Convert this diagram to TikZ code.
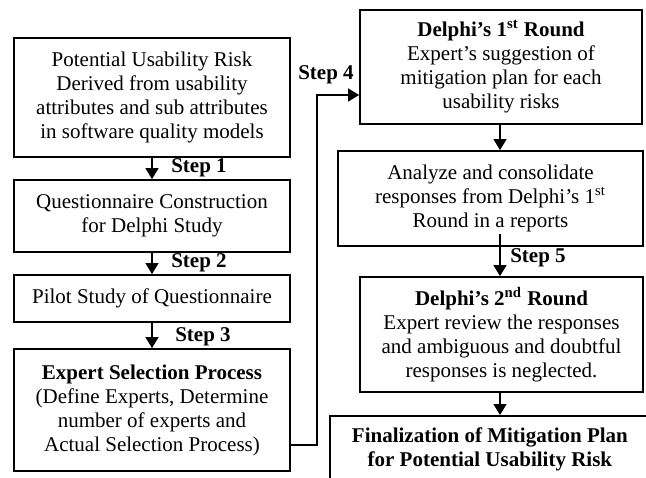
\documentclass[tikz,border=0pt]{standalone}
\usepackage{fontspec}
\setmainfont{Liberation Serif}
\usepackage{tikz}
\usetikzlibrary{arrows.meta,calc}

\tikzset{
  stage/.style={draw,line width=0.9pt,align=center,inner sep=0pt,font=\fontsize{10.5}{12}\selectfont},
  steplabel/.style={font=\fontsize{10.5}{12}\selectfont\bfseries,inner sep=0pt},
  flow/.style={line width=0.7pt,-{Triangle[width=6.5pt,length=5.5pt]}}
}

\begin{document}
\begin{tikzpicture}[x=0.5pt,y=-0.5pt]
                \useasboundingbox (0,0) rectangle (646,477);
                \clip (0,0) rectangle (646,477);

                % left column
                \node[stage,minimum width=138pt,minimum height=59.5pt] (risk) at (152,97.5)
                    {Potential Usability Risk\\Derived from usability\\attributes and sub attributes\\in software quality models};
                \node[stage,minimum width=138pt,minimum height=36pt] (quest) at (152,216)
                    {Questionnaire Construction\\for Delphi Study};
                \node[stage,minimum width=138pt,minimum height=23.5pt] (pilot) at (152,298.5)
                    {Pilot Study of Questionnaire};
                \node[stage,minimum width=138pt,minimum height=61pt] (select) at (152,410)
                    {\textbf{Expert Selection Process}\\(Define Experts, Determine\\number of experts and\\Actual Selection Process)};

                % right column
                \node[stage,minimum width=141pt,minimum height=57pt] (round1) at (501,67)
                    {\textbf{Delphi's 1\textsuperscript{st} Round}\\Expert's suggestion of\\mitigation plan for each\\usability risks};
                \node[stage,minimum width=152.5pt,minimum height=47.5pt] (analyze) at (490.5,198.5)
                    {Analyze and consolidate\\responses from Delphi's 1\textsuperscript{st}\\Round in a reports};
                \node[stage,minimum width=141.5pt,minimum height=57.5pt] (round2) at (501.5,334.5)
                    {\textbf{Delphi's 2\textsuperscript{nd} Round}\\Expert review the responses\\and ambiguous and doubtful\\responses is neglected.};
                \node[stage,anchor=north west,minimum width=160pt,inner ysep=6pt] (final) at (329,415)
                    {\textbf{Finalization of Mitigation Plan}\\\textbf{for Potential Usability Risk}\\\rule{0pt}{30pt}};

                % step labels
                \node[steplabel] (s1) at (199,168) {Step 1};
                \node[steplabel] (s2) at (199,263) {Step 2};
                \node[steplabel] (s3) at (203,337) {Step 3};
                \node[steplabel] (s4) at (326,75) {Step 4};
                \node[steplabel] (s5) at (538,258) {Step 5};

                % connectors
                \draw[flow] (risk) -- (quest);
                \draw[flow] (quest) -- (pilot);
                \draw[flow] (pilot) -- (select);
                \draw[flow] (select.east |- 0,445) -| (317,95) -- (round1.west |- 0,95);
                \draw[flow] (round1.south -| 500,0) -- (analyze.north -| 500,0);
                \draw[flow] ($(analyze.south -| 500,0)+(0,-13)$) -- (round2.north -| 500,0);
                \draw[flow] (round2.south -| 500,0) -- (final.north -| 500,0);
\end{tikzpicture}
\end{document}
